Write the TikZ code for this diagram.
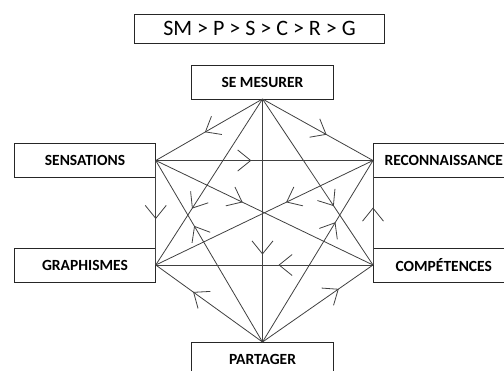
\documentclass[tikz,border=0pt]{standalone}
\usepackage{fontspec}
\setmainfont{Carlito}
\usepackage{tikz}
\usetikzlibrary{arrows.meta}
\usetikzlibrary{decorations.markings}

\tikzset{
  box/.style={draw=black!85, line width=1pt, fill=white, inner sep=0pt, outer sep=0pt,
              minimum width=141.5pt, minimum height=34pt, font=\bfseries\fontsize{15.5}{18}\selectfont},
  link/.style={draw=black!75, line width=0.8pt},
  midarrow/.style={postaction={decorate}, decoration={markings,
              mark=at position #1 with {\arrow{Straight Barb[length=13pt,width=21pt]}}}}
}

\begin{document}
\begin{tikzpicture}[x=1pt, y=-1pt]
                    \useasboundingbox (0,0) rectangle (504,370);
                    \clip (0,0) rectangle (504,370);
                    % ordre
                    \node[draw=black!85, line width=1pt, minimum width=250pt, minimum height=29pt,
                          font=\fontsize{22}{24}\selectfont] (ordre) at (259.5,28.5) {SM > P > S > C > R > G};
                    % les six poles
                    \node[box] (SM) at (262.5,82) {SE MESURER};
                    \node[box] (S) at (85,160.5) {SENSATIONS};
                    \node[box] (R) at (443.75,160.5) {RECONNAISSANCE};
                    \node[box] (G) at (85,265) {GRAPHISMES};
                    \node[box] (C) at (443.75,265) {COMPÉTENCES};
                    \node[box] (P) at (262.5,359) {PARTAGER};
                    % liaisons
                    \draw[link, midarrow=0.54] (SM.south) -- (S.east);
                    \draw[link, midarrow=0.58] (SM.south) -- (R.west);
                    \draw[link, midarrow=0.66] (SM.south) -- (G.east);
                    \draw[link, midarrow=0.645] (SM.south) -- (C.west);
                    \draw[link, midarrow=0.64] (SM.south) -- (P.north);
                    \draw[link, midarrow=0.44] (S.east) -- (R.west);
                    \draw[link, midarrow=0.56] (S.east) -- (G.east);
                    \draw[link, midarrow=0.40] (S.east) -- (C.west);
                    \draw[link, midarrow=0.40] (R.west) -- (G.east);
                    \draw[link, midarrow=0.55] (C.west) -- (R.west);
                    \draw[link, midarrow=0.435] (C.west) -- (G.east);
                    \draw[link, midarrow=0.64] (P.north) -- (S.east);
                    \draw[link, midarrow=0.66] (P.north) -- (R.west);
                    \draw[link, midarrow=0.65] (P.north) -- (G.east);
                    \draw[link, midarrow=0.69] (P.north) -- (C.west);
               \end{tikzpicture}
\end{document}
